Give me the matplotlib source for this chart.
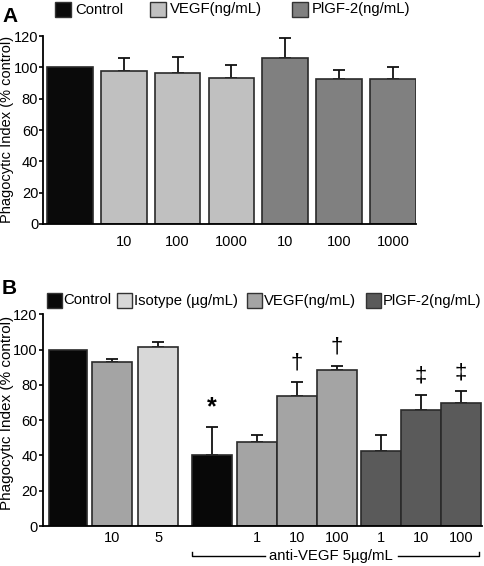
import numpy as np
import matplotlib
matplotlib.use("Agg")
import matplotlib.pyplot as plt
from matplotlib.patches import Rectangle

plt.rcParams['font.family'] = ['Liberation Sans', 'DejaVu Sans']

# panel A
a_labels = ['', '10', '100', '1000', '10', '100', '1000']
a_vals = np.array([100, 97.6, 96.4, 93.0, 106.0, 92.7, 92.7])
a_err = np.array([0, 8.4, 10.4, 8.5, 12.7, 5.8, 7.7])
a_groups = ['Control', 'VEGF', 'VEGF', 'VEGF', 'PlGF', 'PlGF', 'PlGF']
a_colors = {'Control': '#0a0a0a', 'VEGF': '#c0c0c0', 'PlGF': '#808080'}
a_legend = ['Control', 'VEGF(ng/mL)', 'PlGF-2(ng/mL)']

# panel B
b_labels = ['', '10', '5', '', '1', '10', '100', '1', '10', '100']
b_vals = np.array([100, 92.8, 101.7, 40.2, 47.8, 73.7, 88.4, 42.7, 65.8, 69.6])
b_err = np.array([0, 2.1, 2.8, 15.9, 3.8, 8.1, 2.5, 8.7, 8.6, 6.9])
b_groups = ['Control', 'VEGF', 'Isotype', 'Control', 'VEGF', 'VEGF', 'VEGF',
            'PlGF', 'PlGF', 'PlGF']
b_marks = ['', '', '', '*', '', '\u2020', '\u2020', '', '\u2021', '\u2021']
b_colors = {'Control': '#080808', 'Isotype': '#d8d8d8', 'VEGF': '#a4a4a4',
            'PlGF': '#5a5a5a'}
b_legend = ['Control', 'Isotype (\u00b5g/mL)', 'VEGF(ng/mL)', 'PlGF-2(ng/mL)']
b_legend_keys = ['Control', 'Isotype', 'VEGF', 'PlGF']
bracket_text = 'anti-VEGF 5\u00b5g/mL'

fig = plt.figure(figsize=(4.84, 5.66), dpi=100)
W, H = 484, 566


def style(ax, xpad):
    for s in ['top', 'right']:
        ax.spines[s].set_visible(False)
    for s in ['left', 'bottom']:
        ax.spines[s].set_linewidth(1.3)
    ax.set_ylim(0, 120)
    ax.set_yticks(np.arange(0, 121, 20))
    ax.tick_params(axis='y', labelsize=10.5, length=3, width=1.2, pad=0.5)
    ax.tick_params(axis='x', length=0, labelsize=10.5, pad=xpad)


# ---- A ----
axA = fig.add_axes([43 / W, 1 - 224 / H, (416 - 43) / W, (224 - 36) / H])
xa = np.arange(len(a_vals))
axA.bar(xa, a_vals, width=0.85, color=[a_colors[g] for g in a_groups],
        edgecolor='#2a2a2a', linewidth=1.2, zorder=2)
axA.errorbar(xa[1:], a_vals[1:], yerr=[np.zeros(len(xa) - 1), a_err[1:]],
             fmt='none', ecolor='#111111', elinewidth=1.3, capsize=4,
             capthick=1.3, zorder=1)
axA.set_xlim(-0.5, 6.43)
axA.set_xticks(xa)
axA.set_xticklabels(a_labels)
style(axA, 8)
fig.text(7.5 / W, 1 - 129 / H, 'Phagocytic Index (% control)', rotation=90,
         ha='center', va='center', fontsize=10.5)
fig.text(2 / W, 1 - 16 / H, 'A', fontsize=15, fontweight='bold', va='center')
lx = [55, 150, 292]
for x0, lab, key in zip(lx, a_legend, ['Control', 'VEGF', 'PlGF']):
    fig.patches.append(Rectangle((x0 / W, 1 - 17 / H), 16 / W, 15 / H,
                                 transform=fig.transFigure,
                                 facecolor=a_colors[key], edgecolor='#333333',
                                 linewidth=1.0))
    fig.text((x0 + 20) / W, 1 - 9.5 / H, lab, fontsize=10.7, va='center')

# ---- B ----
axB = fig.add_axes([42.7 / W, 1 - 526 / H, (481.7 - 42.7) / W, (526 - 314.3) / H])
xb = np.array([0, 1.1, 2.26, 3.6, 4.725, 5.725, 6.725, 7.825, 8.825, 9.825])
wb = np.array([0.95, 1, 1, 1, 1, 1, 1, 1, 1, 1])
axB.bar(xb, b_vals, width=wb, color=[b_colors[g] for g in b_groups],
        edgecolor='#2a2a2a', linewidth=1.2, zorder=2)
axB.errorbar(xb[1:], b_vals[1:], yerr=[np.zeros(len(xb) - 1), b_err[1:]],
             fmt='none', ecolor='#111111', elinewidth=1.3, capsize=4,
             capthick=1.3, zorder=1)
for x, v, e, m in zip(xb, b_vals, b_err, b_marks):
    if m:
        if m == '*':
            axB.text(x, v + e + 4.5, m, ha='center', va='bottom',
                     fontsize=18, fontweight='bold')
        else:
            axB.text(x, v + e + 4.5, m, ha='center', va='bottom',
                     fontsize=16)
axB.set_xlim(-0.63, 10.34)
axB.set_xticks(xb)
axB.set_xticklabels(b_labels)
style(axB, 3.5)
fig.text(7.5 / W, 1 - 413 / H, 'Phagocytic Index (% control)', rotation=90,
         ha='center', va='center', fontsize=11)
fig.text(2 / W, 1 - 289 / H, 'B', fontsize=15, fontweight='bold', va='center')
lxb = [46.7, 116.7, 246.7, 365.7]
for x0, lab, key in zip(lxb, b_legend, b_legend_keys):
    fig.patches.append(Rectangle((x0 / W, 1 - 307.7 / H), 15 / W, 15 / H,
                                 transform=fig.transFigure,
                                 facecolor=b_colors[key], edgecolor='#333333',
                                 linewidth=1.0))
    fig.text((x0 + 17) / W, 1 - 300.5 / H, lab, fontsize=10.7, va='center')

# bracket under anti-VEGF bars
by = 1 - 556 / H
bt = 1 - 552 / H
fig.add_artist(plt.Line2D([192 / W, 192 / W, 265 / W], [bt, by, by],
                          color='black', linewidth=1.0))
fig.add_artist(plt.Line2D([398 / W, 479 / W, 479 / W], [by, by, bt],
                          color='black', linewidth=1.0))
fig.text(331 / W, by, bracket_text, ha='center', va='center', fontsize=10.7)

fig.savefig('out.png', dpi=100)
